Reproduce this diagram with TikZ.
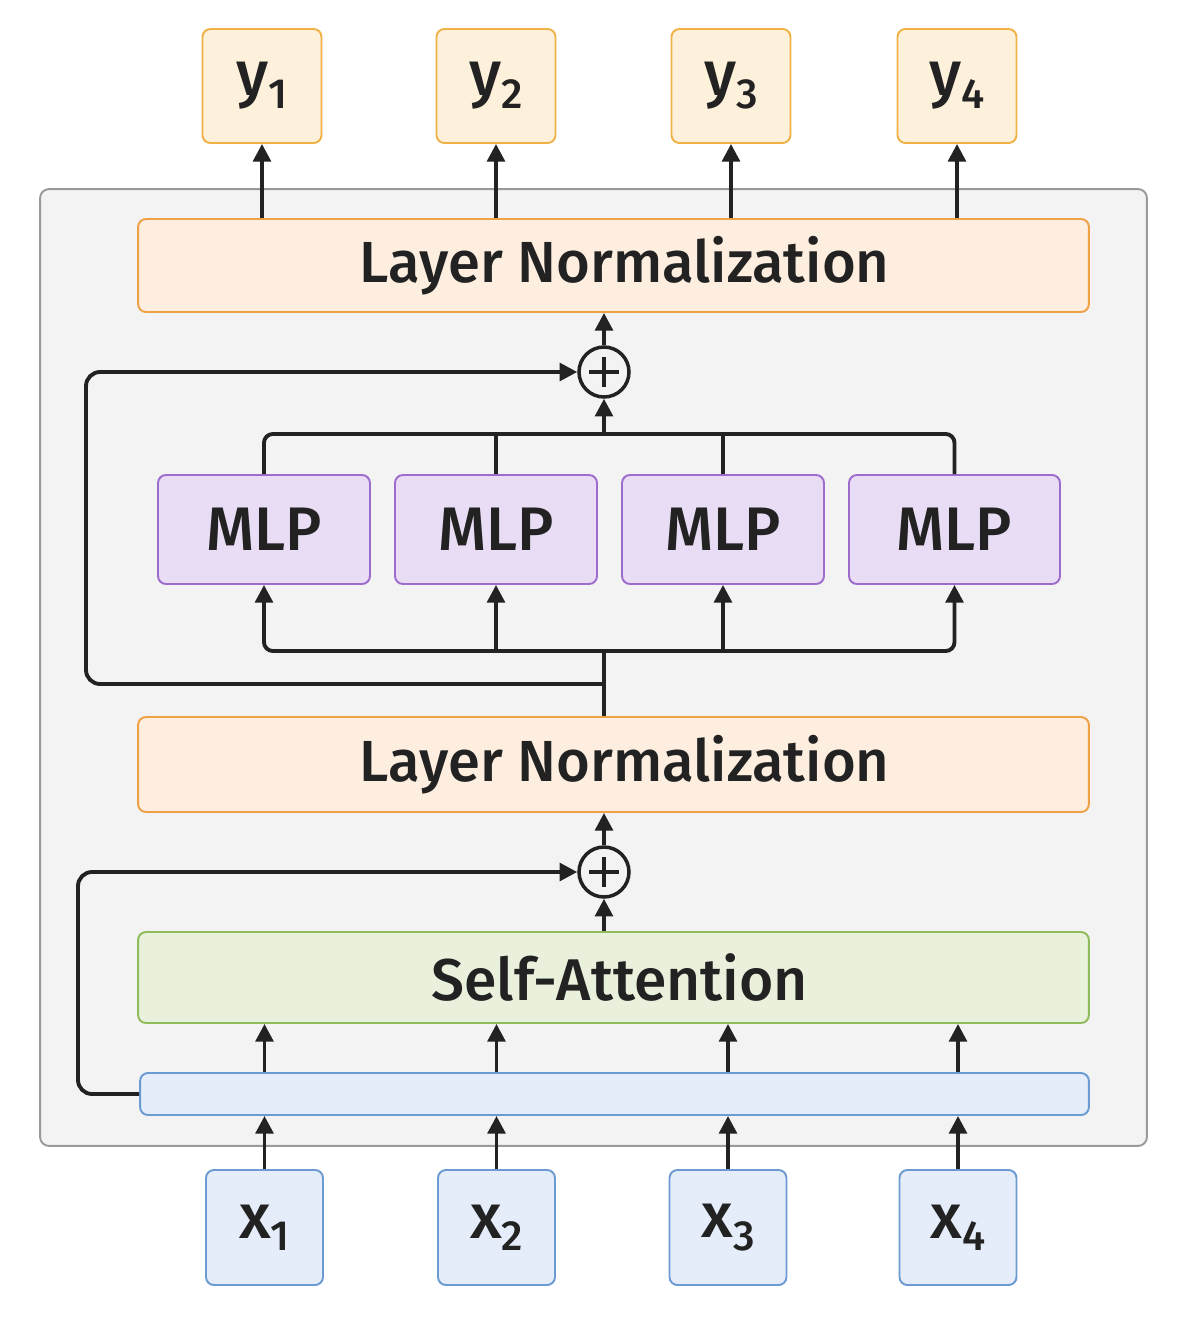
\documentclass[tikz,border=0pt]{standalone}
\usepackage{fontspec}
\setmainfont{Fira Sans Medium}
\usetikzlibrary{arrows.meta}
\definecolor{panelfill}{HTML}{F3F3F3}
\definecolor{paneldraw}{HTML}{9A9A9A}
\definecolor{orfill}{HTML}{FDEEE0}
\definecolor{ordraw}{HTML}{F0A045}
\definecolor{yfill}{HTML}{FEF1DC}
\definecolor{ydraw}{HTML}{F0B245}
\definecolor{pufill}{HTML}{E9DCF5}
\definecolor{pudraw}{HTML}{9E6CCC}
\definecolor{grfill}{HTML}{E9F1DC}
\definecolor{grdraw}{HTML}{90BB5A}
\definecolor{blfill}{HTML}{E4EDF9}
\definecolor{bldraw}{HTML}{6B9BD2}
\definecolor{ink}{HTML}{222222}
\newcommand{\io}[2]{#1{\fontsize{24}{24}\selectfont\raisebox{-7pt}{#2}}}
\tikzset{
  box/.style={draw, rounded corners=4.5pt, line width=1.1pt, inner sep=0pt, text=ink},
  outbox/.style={box, fill=yfill, draw=ydraw, minimum width=2.38cm, minimum height=2.28cm, font=\fontsize{36}{36}\selectfont},
  inbox/.style={box, fill=blfill, draw=bldraw, minimum width=2.34cm, minimum height=2.3cm, font=\fontsize{36}{36}\selectfont},
  lnbox/.style={box, fill=orfill, draw=ordraw, minimum width=19.02cm, font=\fontsize{33}{33}\selectfont},
  mlpbox/.style={box, fill=pufill, draw=pudraw, minimum height=2.18cm, font=\fontsize{35}{35}\selectfont},
  plusnode/.style={circle, draw=ink, line width=2pt, minimum size=1.0cm, inner sep=0pt},
  arr/.style={draw=ink, line width=2.2pt, -{Triangle[length=10pt,width=10pt]}},
  ln/.style={draw=ink, line width=2.2pt},
}
\begin{document}
\begin{tikzpicture}[x=0.02cm, y=-0.02cm]
\useasboundingbox (0,0) rectangle (1192,1319);
% panel
\node[draw=paneldraw, fill=panelfill, line width=1.1pt, rounded corners=5pt, minimum width=22.14cm, minimum height=19.14cm, inner sep=0pt] (panel) at (593.5,667.5) {};
% outputs
\node[outbox] (y1) at (262,86) {\io{y}{1}};
\node[outbox] (y2) at (496,86) {\io{y}{2}};
\node[outbox] (y3) at (731,86) {\io{y}{3}};
\node[outbox] (y4) at (957,86) {\io{y}{4}};
% inputs
\node[inbox] (x1) at (264.5,1227.5) {\io{x}{1}};
\node[inbox] (x2) at (496.5,1227.5) {\io{x}{2}};
\node[inbox] (x3) at (728,1227.5) {\io{x}{3}};
\node[inbox] (x4) at (958,1227.5) {\io{x}{4}};
% main blocks
\node[lnbox, minimum height=1.86cm] (ln1) at (613.5,265.5) {\hspace*{0.45cm}Layer Normalization};
\node[lnbox, minimum height=1.9cm] (ln2) at (613.5,764.5) {\hspace*{0.45cm}Layer Normalization};
\node[box, fill=grfill, draw=grdraw, minimum width=19.02cm, minimum height=1.82cm, font=\fontsize{33.5}{33.5}\selectfont] (sa) at (613.5,977.5) {\hspace*{0.25cm}Self-Attention};
\node[box, fill=blfill, draw=bldraw, minimum width=18.98cm, minimum height=0.84cm] (emb) at (614.5,1094) {};
% MLPs
\node[mlpbox, minimum width=4.24cm] (m1) at (264,529.5) {MLP};
\node[mlpbox, minimum width=4.04cm] (m2) at (496,529.5) {MLP};
\node[mlpbox, minimum width=4.04cm] (m3) at (723,529.5) {MLP};
\node[mlpbox, minimum width=4.22cm] (m4) at (954.5,529.5) {MLP};
% plus nodes
\node[plusnode] (p1) at (604,372) {};
\node[plusnode] (p2) at (604,872) {};
\foreach \p in {p1,p2}{
  \draw[ink, line width=2pt] ([xshift=-0.3cm]\p.center) -- ([xshift=0.3cm]\p.center);
  \draw[ink, line width=2pt] ([yshift=-0.3cm]\p.center) -- ([yshift=0.3cm]\p.center);
}
% coordinates
\coordinate (bustop) at (604,434);
\coordinate (busbot) at (604,651);
\coordinate (loop1) at (604,684);
% output arrows
\foreach \k in {1,2,3,4}{
  \draw[arr] (ln1.north -| y\k) -- (y\k.south);
}
\draw[arr] (p1.north) -- (ln1.south -| p1);
% MLP top bus
\draw[ln, rounded corners=5pt] (m1.north) -- (m1.north |- bustop) -- (m4.north |- bustop) -- (m4.north);
\draw[ln] (m2.north) -- (m2.north |- bustop);
\draw[ln] (m3.north) -- (m3.north |- bustop);
\draw[arr] (bustop) -- (p1.south);
% MLP bottom bus
\draw[arr, rounded corners=5pt] (busbot) -- (m1.south |- busbot) -- (m1.south);
\draw[arr, rounded corners=5pt] (busbot) -- (m4.south |- busbot) -- (m4.south);
\draw[arr] (m2.south |- busbot) -- (m2.south);
\draw[arr] (m3.south |- busbot) -- (m3.south);
\draw[ln] (ln2.north -| busbot) -- (busbot);
% skip 1
\draw[arr, rounded corners=8pt] (loop1) -- (86,684) -- (86,372) -- (p1.west);
% second block
\draw[arr] (p2.north) -- (ln2.south -| p2);
\draw[arr] (sa.north -| p2) -- (p2.south);
\draw[arr, rounded corners=8pt] (emb.west) -- (78,1094) -- (78,872) -- (p2.west);
% input arrows
\foreach \k in {1,2,3,4}{
  \draw[arr] (emb.north -| x\k) -- (sa.south -| x\k);
  \draw[arr] (x\k.north) -- (emb.south -| x\k);
}
\end{tikzpicture}
\end{document}
